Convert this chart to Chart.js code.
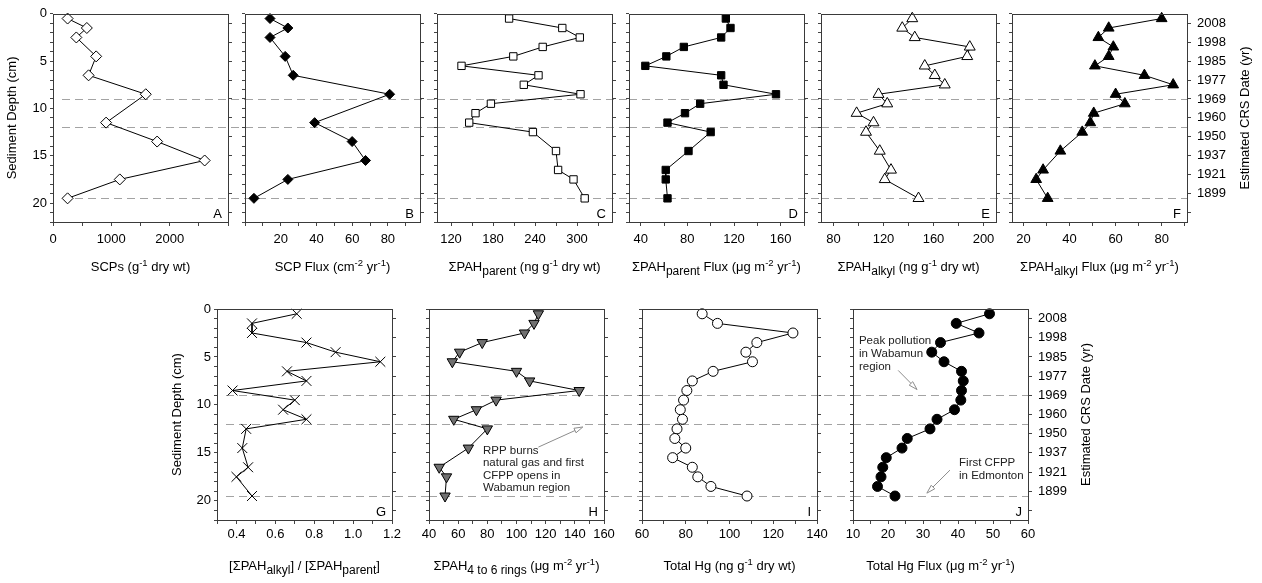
<!DOCTYPE html>
<html>
<head>
<meta charset="utf-8">
<script src="https://cdn.jsdelivr.net/npm/chart.js@4.4.0/dist/chart.umd.min.js"></script>
<style>
body { margin: 0; background: #fff; width: 1262px; height: 583px; position: relative; overflow: hidden; }
canvas { position: absolute; left: 0; top: 0; }
.t { position: absolute; font: 13px "Liberation Sans", Arial, sans-serif; line-height: 16px; white-space: nowrap; transform: translateX(-50%); color: #000; }
.t sup { font-size: 9.5px; line-height: 0; vertical-align: baseline; position: relative; top: -5.5px; }
.t sub { font-size: 12px; line-height: 0; vertical-align: baseline; position: relative; top: 4px; }
</style>
</head>
<body>
<script>
// sediment depths (cm) of the sampled slices
const depthsScp = [0.5, 1.5, 2.5, 4.5, 6.5, 8.5, 11.5, 13.5, 15.5, 17.5, 19.5];
const depthsPah = [0.5, 1.5, 2.5, 3.5, 4.5, 5.5, 6.5, 7.5, 8.5, 9.5, 10.5, 11.5, 12.5, 14.5, 16.5, 17.5, 19.5];
const depthsHg = [0.5, 1.5, 2.5, 3.5, 4.5, 5.5, 6.5, 7.5, 8.5, 9.5, 10.5, 11.5, 12.5, 13.5, 14.5, 15.5, 16.5, 17.5, 18.5, 19.5];

// series
const scps = [250, 580, 400, 740, 610, 1590, 910, 1785, 2600, 1145, 250];
const scpFlux = [14, 24, 14, 22.5, 27, 81, 39, 60, 67.5, 24, 5];
const pahParent = [203, 279, 304, 251, 209, 135, 245, 224, 305, 177, 155, 146, 237, 270, 273, 295, 311];
const pahParentFlux = [113, 117, 109, 77, 62, 44, 109, 111, 156, 91, 78, 63, 100, 81, 61.5, 61.5, 63];
const pahAlkyl = [143, 135, 145, 189, 187, 153, 161, 169, 116, 123, 98.5, 112, 106, 117, 126, 121, 148];
const pahAlkylFlux = [80, 57, 52.5, 59, 57, 51, 72.5, 85, 60, 64, 50.5, 49, 45.5, 36, 28.5, 25.5, 30.5];
const alkylParentRatio = [0.71, 0.48, 0.48, 0.76, 0.91, 1.14, 0.66, 0.76, 0.38, 0.70, 0.64, 0.76, 0.45, 0.43, 0.46, 0.40, 0.48];
const pah4to6Flux = [115, 112, 105.5, 76.5, 61, 56, 100, 109, 143, 86, 72.5, 57, 80, 67, 47, 52, 51];
const totalHg = [87.5, 94.5, 129, 112.5, 107.5, 110.5, 92.5, 83, 80.5, 79, 77.5, 78.5, 76, 75, 80, 74, 83, 85.5, 91.5, 108];
const totalHgFlux = [49, 39.5, 46, 35, 32.5, 36, 41, 41.5, 41, 40.8, 39, 34, 32, 25.5, 24, 19.5, 18.5, 18, 17, 22];

// depth axis and CRS date axis
const depthLabels = [0, 5, 10, 15, 20];
const crsDepths = [1, 3, 5, 7, 9, 11, 13, 15, 17, 19];
const crsDates = ['2008', '1998', '1985', '1977', '1969', '1960', '1950', '1937', '1921', '1899'];
const eventDepths = [9, 12, 19.5];

// x tick labels per panel
const labelsA = [0, 1000, 2000];
const labelsB = [20, 40, 60, 80];
const labelsC = [120, 180, 240, 300];
const labelsD = [40, 80, 120, 160];
const labelsE = [80, 120, 160, 200];
const labelsF = [20, 40, 60, 80];
const labelsG = [0.4, 0.6, 0.8, 1.0, 1.2];
const labelsH = [40, 60, 80, 100, 120, 140, 160];
const labelsI = [60, 80, 100, 120, 140];
const labelsJ = [10, 20, 30, 40, 50, 60];

const FONT = '"Liberation Sans", Arial, sans-serif';
Chart.defaults.font.family = FONT;
Chart.defaults.font.size = 13;
Chart.defaults.color = '#000';

const W = 1262, H = 583, PW = 175;
const rows = {
  top: { top: 11, bottom: 222, xPad: 6, titleY: 267, lefts: [53, 245, 437, 629, 821, 1012] },
  bottom: { top: 309, bottom: 520, xPad: 3, titleY: 566, lefts: [217, 429, 642, 853] }
};

const panels = [
  { key: 'A', row: 'top', x: scps, y: depthsScp, min: 0, max: 3000, start: 0, step: 500, labels: labelsA,
    style: 'rectRot', r: 5.5, fill: '#fff', title: 'SCPs (g<sup>-1</sup> dry wt)' },
  { key: 'B', row: 'top', x: scpFlux, y: depthsScp, min: 0, max: 98, start: 0, step: 10, labels: labelsB,
    style: 'rectRot', r: 5, fill: '#000', title: 'SCP Flux (cm<sup>-2</sup> yr<sup>-1</sup>)' },
  { key: 'C', row: 'top', x: pahParent, y: depthsPah, min: 100, max: 350, start: 120, step: 30, labels: labelsC,
    style: 'rect', r: 5.2, fill: '#fff', title: '&Sigma;PAH<sub>parent</sub> (ng g<sup>-1</sup> dry wt)' },
  { key: 'D', row: 'top', x: pahParentFlux, y: depthsPah, min: 30, max: 180, start: 40, step: 20, labels: labelsD,
    style: 'rect', r: 5.2, fill: '#000', title: '&Sigma;PAH<sub>parent</sub> Flux (&mu;g m<sup>-2</sup> yr<sup>-1</sup>)' },
  { key: 'E', row: 'top', x: pahAlkyl, y: depthsPah, min: 70, max: 210, start: 80, step: 20, labels: labelsE,
    style: 'triangle', r: 6.3, fill: '#fff', title: '&Sigma;PAH<sub>alkyl</sub> (ng g<sup>-1</sup> dry wt)' },
  { key: 'F', row: 'top', x: pahAlkylFlux, y: depthsPah, min: 15, max: 91, start: 20, step: 10, labels: labelsF,
    style: 'triangle', r: 6.2, fill: '#000', title: '&Sigma;PAH<sub>alkyl</sub> Flux (&mu;g m<sup>-2</sup> yr<sup>-1</sup>)' },
  { key: 'G', row: 'bottom', x: alkylParentRatio, y: depthsPah, min: 0.3, max: 1.2, start: 0.3, step: 0.1, labels: labelsG, dec: 1,
    style: 'crossRot', r: 7, fill: '#000', title: '[&Sigma;PAH<sub>alkyl</sub>] / [&Sigma;PAH<sub>parent</sub>]' },
  { key: 'H', row: 'bottom', x: pah4to6Flux, y: depthsPah, min: 40, max: 160, start: 40, step: 10, labels: labelsH,
    style: 'triangle', rot: 180, r: 6, fill: '#707070', title: '&Sigma;PAH<sub>4 to 6 rings</sub> (&mu;g m<sup>-2</sup> yr<sup>-1</sup>)',
    notes: [{ lines: ['RPP burns', 'natural gas and first', 'CFPP opens in', 'Wabamun region'], x: 77, d: 14.8, step: 12.2,
              arrow: [115, 14.4, 145.5, 12.3] }] },
  { key: 'I', row: 'bottom', x: totalHg, y: depthsHg, min: 60, max: 140, start: 60, step: 10, labels: labelsI,
    style: 'circle', r: 5, fill: '#fff', title: 'Total Hg (ng g<sup>-1</sup> dry wt)' },
  { key: 'J', row: 'bottom', x: totalHgFlux, y: depthsHg, min: 10, max: 60, start: 10, step: 5, labels: labelsJ,
    style: 'circle', r: 5, fill: '#000', title: 'Total Hg Flux (&mu;g m<sup>-2</sup> yr<sup>-1</sup>)',
    notes: [{ lines: ['Peak pollution', 'in Wabamun', 'region'], x: 11.7, d: 3.37, step: 12.6, arrow: [22.9, 6.4, 28.3, 8.4] },
            { lines: ['First CFPP', 'in Edmonton'], x: 40.3, d: 16.05, step: 13.3, arrow: [37.7, 16.8, 31.1, 19.2] }] }
];

function ticksFrom(start, max, step) {
  const out = [];
  for (let v = start; v <= max + 1e-9; v += step) out.push(Math.round(v * 1e6) / 1e6);
  return out;
}

function arrow(ctx, x1, y1, x2, y2) {
  const ang = Math.atan2(y2 - y1, x2 - x1), len = 9, s = 0.28;
  ctx.strokeStyle = '#8c8c8c';
  ctx.lineWidth = 1;
  ctx.beginPath();
  ctx.moveTo(x1, y1);
  ctx.lineTo(x2 - 7 * Math.cos(ang), y2 - 7 * Math.sin(ang));
  ctx.stroke();
  ctx.beginPath();
  ctx.moveTo(x2 - len * Math.cos(ang - s), y2 - len * Math.sin(ang - s));
  ctx.lineTo(x2, y2);
  ctx.lineTo(x2 - len * Math.cos(ang + s), y2 - len * Math.sin(ang + s));
  ctx.closePath();
  ctx.fillStyle = '#fff';
  ctx.fill();
  ctx.stroke();
}

function panelPlugin(p) {
  return {
    id: 'panel' + p.key,
    beforeDatasetsDraw(chart) {
      const { ctx, chartArea: a, scales: { y } } = chart;
      ctx.save();
      ctx.strokeStyle = '#a3a3a3';
      ctx.lineWidth = 1;
      ctx.setLineDash([8, 5]);
      eventDepths.forEach(d => {
        const py = Math.round(y.getPixelForValue(d)) + 0.5;
        ctx.beginPath();
        ctx.moveTo(a.left + (p.first ? 9 : 0), py);
        ctx.lineTo(p.next || a.right, py);
        ctx.stroke();
      });
      ctx.restore();
    },
    afterDraw(chart) {
      const { ctx, chartArea: a, scales: { x, y } } = chart;
      ctx.save();
      ctx.strokeStyle = '#3a3a3a';
      ctx.lineWidth = 1;
      ctx.strokeRect(Math.round(a.left) + 0.5, Math.round(a.top) + 0.5,
        Math.round(a.right - a.left), Math.round(a.bottom - a.top));
      ctx.fillStyle = '#000';
      ctx.font = '13px ' + FONT;
      ctx.textAlign = 'right';
      ctx.textBaseline = 'alphabetic';
      ctx.fillText(p.key, a.right - 6, a.bottom - 4);

      // right-hand date axis title, read bottom to top
      if (p.last) {
        ctx.save();
        ctx.translate(a.right + 58, (a.top + a.bottom) / 2);
        ctx.rotate(-Math.PI / 2);
        ctx.textAlign = 'center';
        ctx.textBaseline = 'middle';
        ctx.fillText('Estimated CRS Date (yr)', 0, 0);
        ctx.restore();
      }

      (p.notes || []).forEach(n => {
        ctx.font = '11.5px ' + FONT;
        ctx.fillStyle = '#222';
        ctx.textAlign = 'left';
        ctx.textBaseline = 'middle';
        const tx = x.getPixelForValue(n.x), ty = y.getPixelForValue(n.d);
        n.lines.forEach((s, i) => ctx.fillText(s, tx, ty + i * n.step));
        const [ax1, ad1, ax2, ad2] = n.arrow;
        arrow(ctx, x.getPixelForValue(ax1), y.getPixelForValue(ad1), x.getPixelForValue(ax2), y.getPixelForValue(ad2));
      });
      ctx.restore();
    }
  };
}

['top', 'bottom'].forEach(rowKey => {
  const row = rows[rowKey];
  const inRow = panels.filter(q => q.row === rowKey);
  inRow.forEach((p, idx) => {
    const left = row.lefts[idx];
    const right = left + PW;
    p.first = idx === 0;
    p.last = idx === inRow.length - 1;
    p.next = p.last ? 0 : row.lefts[idx + 1];

    const leftW = p.first ? (rowKey === 'top' ? 48 : 47) : 4;
    const rightW = p.last ? 66 : 5;
    const xH = 30;

    const canvas = document.createElement('canvas');
    canvas.width = W;
    canvas.height = H;
    document.body.appendChild(canvas);

    const tickGrid = len => ({ display: true, drawOnChartArea: false, drawTicks: true, tickLength: len, tickColor: '#444', lineWidth: 1 });

    new Chart(canvas.getContext('2d'), {
      type: 'scatter',
      data: {
        datasets: [{
          data: p.x.map((v, i) => ({ x: v, y: p.y[i] })),
          showLine: true,
          borderColor: '#000',
          borderWidth: 1,
          tension: 0,
          pointStyle: p.style,
          pointRadius: p.r,
          pointRotation: p.rot || 0,
          pointBackgroundColor: p.fill,
          pointBorderColor: '#000',
          pointBorderWidth: 1,
          clip: false
        }]
      },
      options: {
        responsive: false,
        animation: false,
        events: [],
        layout: { padding: { left: left - leftW, right: W - right - rightW, top: row.top, bottom: H - row.bottom - xH } },
        plugins: { legend: { display: false }, tooltip: { enabled: false } },
        scales: {
          x: {
            type: 'linear', position: 'bottom', min: p.min, max: p.max,
            afterFit: s => { s.height = xH; },
            afterBuildTicks: s => { s.ticks = ticksFrom(p.start, p.max, p.step).map(v => ({ value: v })); },
            ticks: {
              autoSkip: false, maxRotation: 0, padding: row.xPad,
              callback: v => p.labels.some(l => Math.abs(l - v) < 1e-6) ? (p.dec ? v.toFixed(p.dec) : String(v)) : ''
            },
            grid: tickGrid(4),
            border: { display: false }
          },
          y: {
            type: 'linear', position: 'left', reverse: true, min: 0, max: 22,
            afterFit: s => { s.width = leftW; },
            afterBuildTicks: s => { s.ticks = ticksFrom(0, 22, 1).map(v => ({ value: v })); },
            ticks: {
              autoSkip: false, padding: 3,
              callback: v => (p.first && depthLabels.includes(v)) ? String(v) : ''
            },
            title: { display: p.first, text: 'Sediment Depth (cm)', padding: 0, font: { size: 13 } },
            grid: tickGrid(3),
            border: { display: false }
          },
          y2: {
            type: 'linear', position: 'right', reverse: true, min: 0, max: 22,
            afterFit: s => { s.width = rightW; },
            afterBuildTicks: s => { s.ticks = ticksFrom(1, 21, 2).map(v => ({ value: v })); },
            ticks: {
              autoSkip: false, padding: 6,
              callback: v => {
                const i = crsDepths.indexOf(v);
                return (p.last && i >= 0) ? crsDates[i] : '';
              }
            },
            grid: tickGrid(4),
            border: { display: false }
          }
        }
      },
      plugins: [panelPlugin(p)]
    });

    const t = document.createElement('div');
    t.className = 't';
    t.style.left = (left + PW / 2) + 'px';
    t.style.top = (row.titleY - 8) + 'px';
    t.innerHTML = p.title;
    document.body.appendChild(t);
  });
});
</script>
</body>
</html>
